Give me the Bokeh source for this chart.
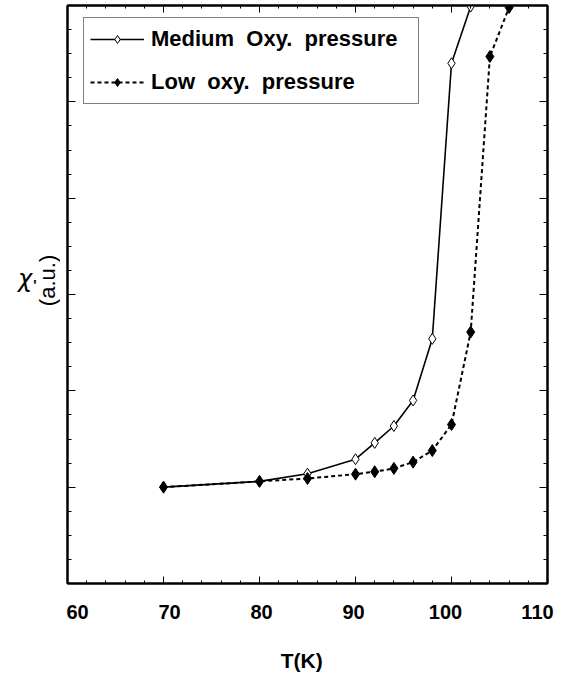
import math
from bokeh.plotting import figure
from bokeh.layouts import row
from bokeh.models import (Range1d, LinearAxis, SingleIntervalTicker, Legend, LegendItem,
                          CustomJSTickFormatter)
from bokeh.core.properties import value
from bokeh.embed import file_html
from bokeh.resources import INLINE

# ---- data ----
temp_medium = [70, 80, 85, 90, 92, 94, 96, 98, 100, 102]
chi_medium = [1.00, 1.06, 1.14, 1.29, 1.46, 1.635, 1.90, 2.54, 5.40, 5.99]
temp_low = [70, 80, 85, 90, 92, 94, 96, 98, 100, 102, 104, 106]
chi_low = [1.00, 1.06, 1.09, 1.135, 1.16, 1.195, 1.26, 1.38, 1.65, 2.61, 5.47, 5.98]
x_limits = (60, 110)
y_limits = (0, 6)
label_medium = "Medium\u00a0\u00a0Oxy.\u00a0\u00a0pressure"
label_low = "Low\u00a0\u00a0oxy.\u00a0\u00a0pressure"
x_title = "T(K)"
y_symbol = "\u03c7"
y_prime = "'"
y_unit = "(a.u.)"

FONT = "Liberation Sans"
LEFT_W = 60
H = 677
TOP, BOTTOM = 5, 94

y_range = Range1d(*y_limits)

# ---------------- main plot ----------------
p = figure(width=582 - LEFT_W, height=H, output_backend="svg", toolbar_location=None,
           x_range=Range1d(*x_limits), y_range=y_range,
           x_axis_location=None, y_axis_location=None,
           min_border_left=7, min_border_right=35, min_border_top=TOP, min_border_bottom=BOTTOM)
p.grid.visible = False
p.outline_line_color = "black"
p.outline_line_width = 2
p.background_fill_color = "white"
p.border_fill_color = "white"

# the printed tick labels sit on a slightly compressed scale relative to the tick marks
p.extra_x_ranges = {"labels": Range1d(58.913, 111.087)}

empty = CustomJSTickFormatter(code="return ''")


def tick_axis(kind, loc):
    if kind == "x":
        ax = LinearAxis(ticker=SingleIntervalTicker(interval=10, num_minor_ticks=5))
        maj, mnr = 7, 3
    else:
        ax = LinearAxis(ticker=SingleIntervalTicker(interval=1, num_minor_ticks=4))
        maj, mnr = 8, 4
    ax.major_tick_in = maj
    ax.major_tick_out = 0
    ax.minor_tick_in = mnr
    ax.minor_tick_out = 0
    ax.axis_line_width = 2
    ax.axis_line_color = "black"
    ax.major_tick_line_color = "black"
    ax.minor_tick_line_color = "black"
    ax.formatter = empty
    ax.major_label_text_font_size = "0px"
    ax.major_label_standoff = 0
    p.add_layout(ax, loc)
    return ax


tick_axis("x", "below")
tick_axis("x", "above")
tick_axis("y", "left")
tick_axis("y", "right")

# labelled bottom axis (labels only)
lab = LinearAxis(x_range_name="labels", ticker=SingleIntervalTicker(interval=10, num_minor_ticks=0))
lab.axis_line_color = None
lab.major_tick_line_color = None
lab.minor_tick_line_color = None
lab.major_tick_in = 0
lab.major_tick_out = 0
lab.major_label_text_font = FONT
lab.major_label_text_font_style = "bold"
lab.major_label_text_font_size = "20px"
lab.major_label_text_color = "black"
lab.major_label_standoff = 21
lab.axis_label = x_title + "\u00a0\u00a0"
lab.axis_label_text_font = FONT
lab.axis_label_text_font_style = "bold"
lab.axis_label_text_font_size = "21px"
lab.axis_label_text_color = "black"
lab.axis_label_standoff = 27
p.add_layout(lab, "below")

r_med_line = p.line(temp_medium, chi_medium, line_color="black", line_width=1.6)
r_med_pts = p.scatter(temp_medium, chi_medium, marker="diamond", size=11,
                      fill_color="white", line_color="black", line_width=1)
r_low_line = p.line(temp_low, chi_low, line_color="black", line_width=2, line_dash="4 3")
r_low_pts = p.scatter(temp_low, chi_low, marker="diamond", size=12,
                      fill_color="black", line_color="black")

legend = Legend(items=[
    LegendItem(label=label_medium, renderers=[r_med_line, r_med_pts]),
    LegendItem(label=label_low, renderers=[r_low_line, r_low_pts]),
])
legend.location = (16, 479)
legend.label_text_font = FONT
legend.label_text_font_style = "bold"
legend.label_text_font_size = "22px"
legend.label_text_color = "black"
legend.glyph_width = 54
legend.glyph_height = 20
legend.label_height = 30
legend.label_width = 261
legend.label_standoff = 7
legend.spacing = 13
legend.padding = 6
legend.margin = 0
legend.border_line_color = "black"
legend.border_line_width = 1
legend.background_fill_color = "white"
legend.background_fill_alpha = 1
p.add_layout(legend, "center")

# ---------------- left strip carrying the y-axis title ----------------
q = figure(width=LEFT_W, height=H, output_backend="svg", toolbar_location=None,
           x_range=Range1d(0, LEFT_W), y_range=y_range,
           x_axis_location=None, y_axis_location=None,
           min_border_left=0, min_border_right=0, min_border_top=TOP, min_border_bottom=BOTTOM)
q.grid.visible = False
q.outline_line_color = None
q.background_fill_color = "white"
q.border_fill_color = "white"

PX = 96.0  # pixels per y unit (frame 578 px / 6 units)
q.text(x=[24.7], y=[(583 - 280) / PX], text=[y_symbol], text_align="center",
       text_baseline="alphabetic", text_font=value("DejaVu Sans"),
       text_font_style="italic", text_font_size="24px", text_color="black")
q.text(x=[34.3], y=[(583 - 286) / PX], text=[y_prime], text_align="center",
       text_baseline="alphabetic", text_font=value(FONT),
       text_font_style="bold", text_font_size="14px", text_color="black")
q.text(x=[46.5], y=[(583 - 281) / PX], text=[y_unit], angle=math.pi / 2, text_align="center",
       text_baseline="middle", text_font=value(FONT),
       text_font_size="22px", text_color="black")

layout = row(q, p, spacing=0)
open("out.html", "w").write(file_html(layout, INLINE))
